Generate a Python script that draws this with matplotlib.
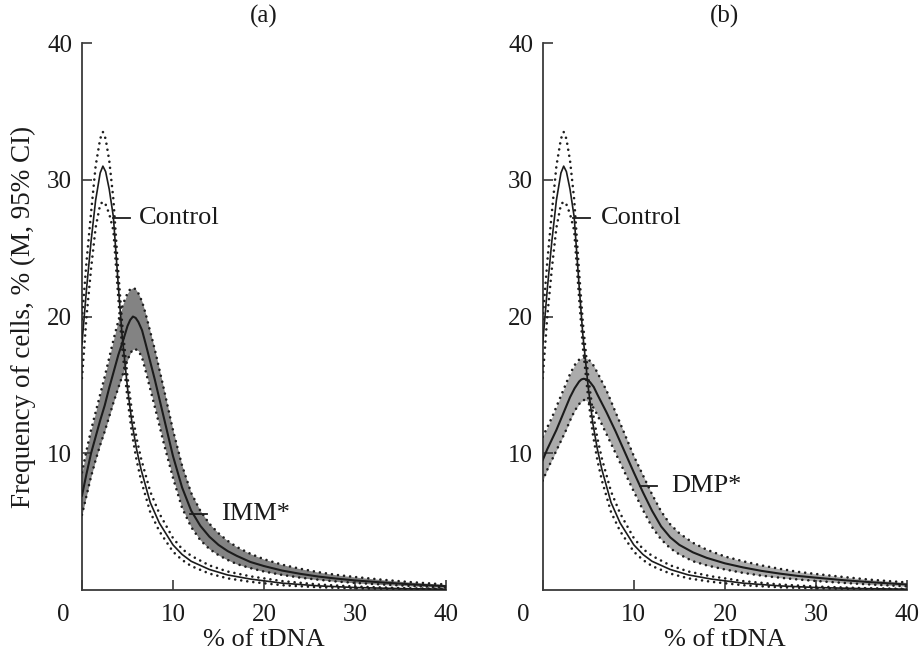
import matplotlib
matplotlib.use("Agg")
import matplotlib.pyplot as plt
from matplotlib.transforms import ScaledTranslation

plt.rcParams['font.family'] = ['Liberation Serif', 'DejaVu Serif']

# ---------------- data ----------------
ctrl_x = [0, 0.5, 1, 1.5, 2, 2.3, 2.6, 3, 3.45, 4, 4.4, 5, 5.5, 6, 6.5, 7.5, 8.5,
          10, 11, 12, 14, 16, 18.5, 22, 26, 30, 35, 40]
ctrl_mean = [18.0, 22.0, 25.5, 28.5, 30.5, 31.0, 30.6, 29.3, 27.3, 22.2, 18.7, 14.8,
             12.2, 10.3, 8.8, 6.4, 4.9, 3.3, 2.6, 2.1, 1.5, 1.1, 0.8, 0.5, 0.3, 0.18, 0.1, 0.06]
ctrl_upper = [19.8, 24.0, 27.6, 31.0, 33.0, 33.5, 33.0, 31.4, 28.6, 23.2, 19.6, 15.6,
              13.0, 11.1, 9.6, 7.2, 5.6, 3.8, 3.0, 2.5, 1.8, 1.35, 1.0, 0.65, 0.4, 0.25, 0.14, 0.08]
ctrl_lower = [15.5, 20.0, 23.5, 26.5, 28.2, 28.4, 28.2, 27.5, 26.3, 21.3, 17.8, 14.0,
              11.4, 9.5, 8.0, 5.7, 4.3, 2.8, 2.2, 1.75, 1.2, 0.85, 0.6, 0.35, 0.2, 0.12, 0.07, 0.04]

imm_x = [0, 0.5, 1, 1.5, 2, 2.5, 3, 3.5, 4, 4.5, 5, 5.3, 5.6, 5.9, 6.2, 6.6, 7, 8, 9, 10,
         11, 12, 13, 14, 15, 16, 17, 18.5, 20, 22, 24, 26, 28, 30, 33, 36, 40]
imm_mean = [6.9, 8.5, 10.0, 11.2, 12.4, 13.5, 14.8, 16.0, 17.2, 18.2, 19.3, 19.75, 20.0,
            19.9, 19.6, 19.0, 18.0, 15.4, 12.6, 9.8, 7.5, 5.8, 4.7, 3.9, 3.3, 2.85, 2.5,
            2.05, 1.75, 1.42, 1.18, 0.98, 0.83, 0.7, 0.55, 0.42, 0.28]
imm_upper = [8.6, 10.2, 11.7, 13.0, 14.3, 15.6, 17.0, 18.4, 19.7, 20.9, 21.7, 22.0, 22.1,
             22.0, 21.7, 21.1, 20.2, 17.6, 14.7, 11.7, 9.1, 7.1, 5.8, 4.85, 4.15, 3.6, 3.15,
             2.65, 2.25, 1.85, 1.55, 1.3, 1.1, 0.95, 0.75, 0.58, 0.4]
imm_lower = [5.5, 6.9, 8.3, 9.5, 10.6, 11.6, 12.7, 13.8, 14.8, 15.8, 16.8, 17.3, 17.6,
             17.6, 17.5, 17.0, 16.0, 13.4, 10.7, 8.2, 6.0, 4.6, 3.65, 3.0, 2.55, 2.2, 1.9,
             1.6, 1.35, 1.1, 0.9, 0.75, 0.62, 0.52, 0.4, 0.3, 0.18]

dmp_x = [0, 0.5, 1, 1.5, 2, 2.5, 3, 3.5, 4, 4.25, 4.5, 4.8, 5.2, 5.6, 6, 7, 8, 9, 10,
         11, 12, 13, 14, 15, 16.5, 18, 20, 22, 24, 26, 28, 30, 33, 36, 40]
dmp_mean = [9.5, 10.3, 11.0, 11.7, 12.5, 13.3, 14.1, 14.75, 15.25, 15.4, 15.45, 15.4,
            15.2, 14.85, 14.3, 13.0, 11.6, 10.1, 8.6, 7.15, 5.8, 4.65, 3.85, 3.3, 2.75,
            2.35, 1.95, 1.65, 1.4, 1.2, 1.03, 0.9, 0.72, 0.57, 0.4]
dmp_upper = [11.2, 11.9, 12.6, 13.4, 14.2, 15.0, 15.8, 16.45, 16.85, 16.97, 17.0, 16.95,
             16.75, 16.4, 15.9, 14.6, 13.0, 11.4, 9.8, 8.4, 7.0, 5.75, 4.8, 4.15, 3.45,
             2.95, 2.45, 2.1, 1.8, 1.55, 1.33, 1.17, 0.95, 0.75, 0.55]
dmp_lower = [8.0, 8.8, 9.5, 10.2, 10.9, 11.6, 12.4, 13.1, 13.6, 13.8, 13.9, 13.85, 13.65,
             13.3, 12.8, 11.4, 10.0, 8.6, 7.2, 5.85, 4.6, 3.7, 3.05, 2.6, 2.1, 1.8, 1.5,
             1.25, 1.05, 0.9, 0.77, 0.66, 0.52, 0.4, 0.27]

xticks = [0, 10, 20, 30, 40]
yticks = [10, 20, 30, 40]
titles = ["(a)", "(b)"]
group_names = ["IMM*", "DMP*"]

# ---------------- figure ----------------
fig = plt.figure(figsize=(9.23, 6.53), dpi=100)
axA = fig.add_axes([0.0888, 0.0965, 0.3944, 0.8375])
axB = fig.add_axes([0.5880, 0.0965, 0.3947, 0.8375])

line_c = '#1c1c1c'
dot_style = dict(color='#1e1e1e', lw=1.9, linestyle=(0, (0.01, 2.3)),
                 dash_capstyle='round', solid_capstyle='round')


def draw_panel(ax, gx, gm, gu, gl, fill_col, title, gname, ann_c, ann_g):
    ax.fill_between(gx, gl, gu, color=fill_col, lw=0, zorder=1)
    ax.plot(gx, gu, zorder=3, **dot_style)
    ax.plot(gx, gl, zorder=3, **dot_style)
    ax.plot(gx, gm, color=line_c, lw=1.5, zorder=4)

    ax.plot(ctrl_x, ctrl_upper, zorder=3, **dot_style)
    ax.plot(ctrl_x, ctrl_lower, zorder=3, **dot_style)
    ax.plot(ctrl_x, ctrl_mean, color=line_c, lw=1.2, zorder=4)

    ax.set_xlim(0, 40)
    ax.set_ylim(0, 40)
    ax.set_xticks(xticks)
    ax.set_yticks(yticks)
    for s in ['top', 'right']:
        ax.spines[s].set_visible(False)
    for s in ['left', 'bottom']:
        ax.spines[s].set_color('#3a3a3a')
        ax.spines[s].set_linewidth(1.3)
    ax.tick_params(axis='both', direction='in', length=7, width=1.2,
                   color='#3a3a3a', labelsize=18, labelcolor='#1a1a1a')
    ax.tick_params(axis='x', pad=10)
    ax.tick_params(axis='y', pad=7)
    lbl = ax.get_xticklabels()[0]
    lbl.set_transform(lbl.get_transform() + ScaledTranslation(-0.19, 0, fig.dpi_scale_trans))

    ax.set_xlabel("% of tDNA", fontsize=19, color='#1a1a1a', labelpad=2)
    ax.set_title(title, fontsize=18, color='#1a1a1a', pad=15)

    # annotations
    cx0, cx1, cy, ctx = ann_c
    ax.plot([cx0, cx1], [cy, cy], color=line_c, lw=1.3, zorder=5)
    ax.text(ctx, cy, "Control", fontsize=19, va='center', ha='left', color='#1a1a1a')
    gx0, gx1, gy, gtx = ann_g
    ax.plot([gx0, gx1], [gy, gy], color=line_c, lw=1.3, zorder=5)
    ax.text(gtx, gy, gname, fontsize=19, va='center', ha='left', color='#1a1a1a')


draw_panel(axA, imm_x, imm_mean, imm_upper, imm_lower, '#838383', titles[0], group_names[0],
           (3.4, 5.3, 27.2, 6.3), (11.9, 13.7, 5.55, 15.3))
draw_panel(axB, dmp_x, dmp_mean, dmp_upper, dmp_lower, '#ababab', titles[1], group_names[1],
           (3.3, 5.2, 27.2, 6.4), (10.7, 12.6, 7.6, 14.1))

axA.set_ylabel("Frequency of cells, % (M, 95% CI)", fontsize=19.5, color='#1a1a1a', labelpad=8)

fig.savefig("out.png", dpi=100)
